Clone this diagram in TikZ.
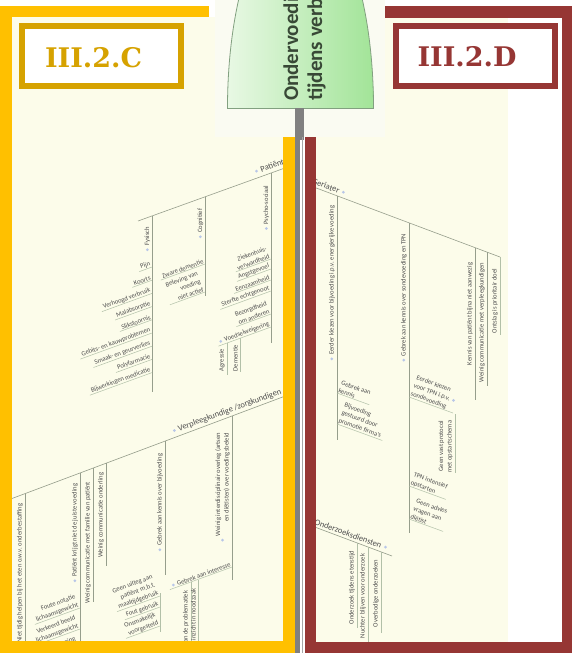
\documentclass[tikz,border=0pt]{standalone}
\usepackage{fontspec}
\newfontfamily\carlito{Carlito}
\newfontfamily\tagfont{DejaVu Serif}
\usetikzlibrary{calc}

\definecolor{frameY}{RGB}{255,192,0}
\definecolor{goldT}{RGB}{214,162,0}
\definecolor{frameR}{RGB}{150,54,52}
\definecolor{cream}{RGB}{252,252,234}
\definecolor{headbg}{RGB}{250,251,242}
\definecolor{bone}{RGB}{150,158,140}
\definecolor{twig}{RGB}{178,192,168}
\definecolor{ink}{RGB}{78,78,78}
\definecolor{dotc}{RGB}{184,198,232}
\definecolor{headL}{RGB}{232,248,228}
\definecolor{headR}{RGB}{162,228,152}
\definecolor{headEdge}{RGB}{130,160,128}
\definecolor{headInk}{RGB}{56,72,54}
\definecolor{stemgray}{RGB}{128,128,128}

\tikzset{
  itm/.style={font=\carlito\fontsize{6.6}{8.4}\selectfont, text=ink, inner sep=0.6pt},
  itL/.style={itm, rotate=20, anchor=south east, align=right},
  itR/.style={itm, rotate=-20, anchor=south west, align=left},
  vlab/.style={itm, rotate=90, anchor=south east, align=right},
  catL/.style={font=\carlito\fontsize{8.5}{9}\selectfont, text=ink, inner sep=1pt, rotate=20, anchor=south west},
  catR/.style={font=\carlito\fontsize{8.5}{9}\selectfont, text=ink, inner sep=1pt, rotate=-20, anchor=south east},
  bn/.style={draw=bone, line width=0.6pt},
  tw/.style={draw=twig, line width=0.5pt},
  headtext/.style={font=\carlito\bfseries\fontsize{21}{21}\selectfont, text=headInk, rotate=90, anchor=base west, inner sep=0pt},
  tagbox/.style={line width=6pt, fill=white, minimum width=159pt, minimum height=60pt, inner sep=0pt},
  tagtext/.style={font=\tagfont\bfseries\fontsize{27}{27}\selectfont, inner sep=0pt},
}

% item hanging left of a vertical twig, underlined
\newcommand\litem[3]{%
  \node[itL] (#1) at (#2) {#3};
  \draw[tw] (#1.south east) -- ($(#1.south west)!-2pt!(#1.south east)$);}
% item hanging right of a vertical twig, underlined
\newcommand\ritem[3]{%
  \node[itR] (#1) at (#2) {#3};
  \draw[tw] (#1.south west) -- ($(#1.south east)!-2pt!(#1.south west)$);}
% marker dots before / after a label
\newcommand\dotW[1]{\fill[dotc] ($(#1.west)!-3.2pt!(#1.east)$) circle (1.5);}
\newcommand\dotE[1]{\fill[dotc] ($(#1.east)!-3.2pt!(#1.west)$) circle (1.5);}

\begin{document}
\begin{tikzpicture}[x=1pt,y=-1pt]
\useasboundingbox (0,0) rectangle (572,653);
\fill[white] (0,0) rectangle (572,653);

% panel backgrounds
\fill[cream] (12,17) rectangle (283,641);
\fill[cream] (316,18) rectangle (508,642);
\fill[headbg] (215,0) rectangle (385,137);

% fish head
\begin{scope}
  \clip (215,0) rectangle (385,108);
  \shade[left color=headL, right color=headR] (300.5,108) ellipse [x radius=73pt, y radius=204pt];
  \draw[headEdge, line width=0.8pt] (300.5,108) ellipse [x radius=73pt, y radius=204pt];
  \node[headtext] (head1) at (298,101) {Ondervoeding};
  \node[headtext] (head2) at (322,101) {tijdens verblijf};
\end{scope}
\draw[headEdge, line width=0.8pt] (227.5,108) -- (373.5,108);
\fill[stemgray] (295,108) rectangle (304,140);
\fill[stemgray] (295,137) rectangle (300,653);
\draw[stemgray!70, line width=0.6pt] (302.5,137) -- (302.5,653);

% ---------------- left half ----------------
\begin{scope}
\clip (12,17) rectangle (283,641);

% Patient
\draw[bn] (138,221) -- (296,164);
\node[catL] (pat) at (261,174) {Patiënt}; \dotW{pat}

\draw[bn] (152,216) -- (152,392);
\node[vlab] (fys) at (151,226) {Fysisch}; \dotW{fys}
\litem{f1}{152,267}{Pijn}
\litem{f2}{152,280.2}{Koorts}
\litem{f3}{152,293.4}{Verhoogd verbruik}
\litem{f4}{152,306.6}{Malabsorptie}
\litem{f5}{152,319.8}{Slikstoornis}
\litem{f6}{152,333}{Gebits- en kauwproblemen}
\litem{f7}{152,346.2}{Smaak- en geurverlies}
\litem{f8}{152,359.4}{Polyfarmacie}
\litem{f9}{152,372.6}{Bijwerkingen medicatie}

\draw[bn] (205,197) -- (205,296);
\node[vlab] (cog) at (204,208) {Cognitief}; \dotW{cog}
\litem{c1}{205,264}{Zware dementie}
\litem{c2}{205,292}{Beleving van\\voeding\\niet actief}

\draw[bn] (271,173) -- (271,343);
\node[vlab] (psy) at (270,185) {Psycho-sociaal}; \dotW{psy}
\litem{p1}{271,259}{Ziekenhuis-\\verwardheid}
\litem{p2}{271,269}{Angstgevoel}
\litem{p3}{271,280}{Eenzaamheid}
\litem{p4}{271,291}{Sterfte echtgenoot}
\litem{p5}{271,314}{Bezorgdheid\\om anderen}
\node[itL] (p6) at (271,327) {Voedselweigering}; \dotW{p6}
\draw[tw] (p6.south east) -- ($(p6.south west)!-7pt!(p6.south east)$);
\draw[tw] (227,343) -- (227,375);
\node[vlab] (agr) at (225.5,348) {Agressie};
\draw[tw] (240,338.3) -- (240,372);
\node[vlab] (dem) at (238.5,344) {Dementie};

% Nursing staff
\draw[bn] (0,503) -- (296,392);
\node[catL] (vpk) at (179,434) {Verpleegkundige /zorgkundigen}; \dotW{vpk}

\draw[bn] (25,493.6) -- (25,653);
\node[vlab] (v1) at (23.5,503) {Niet tijdig helpen bij het eten o.w.v. onderbestaffing};

\draw[bn] (80,473) -- (80,653);
\node[vlab] (v2) at (78.5,483) {Patiënt krijgt niet de juiste voeding}; \dotW{v2}
\litem{v2a}{80,608}{Foute notatie\\lichaamsgewicht}
\litem{v2b}{80,629}{Verkeerd beeld\\lichaamsgewicht}
\litem{v2c}{80,650}{Geen weging\\bij opname}

\draw[bn] (93,468) -- (93,602);
\node[vlab] (v3) at (91.5,481) {Weinig communicatie met familie van patiënt};

\draw[bn] (106,463) -- (106,566);
\node[vlab] (v4) at (104.5,472) {Weinig communicatie onderling};

\draw[bn] (165,441) -- (165,575);
\node[vlab] (v5) at (163.5,453) {Gebrek aan kennis over bijvoeding}; \dotW{v5}

\draw[bn] (232,416) -- (232,580);
\node[vlab] (v6) at (230.5,432) {Weinig interdisciplinair overleg (artsen\\en diëtisten) over voedingsbeleid}; \dotW{v6}

\node[itL] (gai) at (232,567) {Gebrek aan interesse}; \dotW{gai}
\draw[tw] (gai.south east) -- ($(gai.south west)!-8pt!(gai.south east)$);
\draw[tw] (160,593) -- (160,632);
\litem{g1}{160,596}{Geen uitleg aan\\patiënt m.b.t.\\maaltijdgebruik}
\litem{g2}{160,607}{Fout gebruik}
\litem{g3}{160,626}{Onsmakelijk\\voorgesteld}
\draw[tw] (191,582) -- (191,653);
\node[vlab] (g4) at (189.5,590) {Onderschatten van de problematiek};
\draw[tw] (198,580) -- (198,653);
\node[vlab] (g5) at (196.5,588) {Geen inzicht in noodzaak};
\end{scope}

% ---------------- right half ----------------
\begin{scope}
\clip (316,18) rectangle (562,642);

% Geriatrician
\draw[bn] (296,180.4) -- (500,257);
\node[catR] (ger) at (339,195) {Geriater}; \dotE{ger}

\draw[bn] (337,195.75) -- (337,440);
\node[vlab] (r1) at (335.5,205) {Eerder kiezen voor bijvoeding i.p.v. energierijke voeding}; \dotW{r1}
\ritem{r1a}{337,393}{Gebrek aan\\kennis}
\ritem{r1b}{337,424}{Bijvoeding\\gestuurd door\\promotie firma's}

\draw[bn] (409,222.75) -- (409,533);
\node[vlab] (r2) at (407.5,233) {Gebrek aan kennis over sondevoeding en TPN}; \dotW{r2}
\node[itR] (r2a) at (409,397) {Eerder kiezen\\voor TPN i.p.v.\\sondevoeding}; \dotE{r2a}
\draw[tw] (r2a.south west) -- ($(r2a.south east)!-7pt!(r2a.south west)$);
\draw[tw] (455,414) -- (455,473);
\node[vlab] (r2b) at (453.5,420) {Geen vast protocol\\met opstartschema};
\ritem{r2c}{409,486}{TPN intensief\\opstarten}
\ritem{r2d}{409,519}{Geen advies\\vragen aan\\diëtist}

\draw[bn] (475,247.5) -- (475,400);
\node[vlab] (r3) at (473.5,262) {Kennis van patiënt bijna niet aanwezig};
\draw[bn] (487,252) -- (487,386);
\node[vlab] (r4) at (485.5,262) {Weinig communicatie met verpleegkundigen};
\draw[tw] (500,257) -- (500,335);
\node[vlab] (r5) at (498.5,268) {Ontslag is prioritair doel};

% Examination services
\draw[bn] (296,520) -- (392,556);
\node[catR] (ozd) at (381,550) {Onderzoeksdiensten}; \dotE{ozd}
\draw[tw] (357,543) -- (357,628);
\node[vlab] (o1) at (355.5,550) {Onderzoek tijdens etenstijd};
\draw[tw] (368,547) -- (368,653);
\node[vlab] (o2) at (366.5,553) {Nuchter blijven voor onderzoek};
\draw[tw] (381,552) -- (381,633);
\node[vlab] (o3) at (379.5,559) {Overbodige onderzoeken};
\end{scope}

% ---------------- frames ----------------
\fill[frameY] (0,6) rectangle (209,17);
\fill[frameY] (0,6) rectangle (12,653);
\fill[frameY] (0,641) rectangle (295,653);
\fill[frameY] (283,137) rectangle (295,653);

\fill[frameR] (385,6) rectangle (572,18);
\fill[frameR] (562,6) rectangle (572,653);
\fill[frameR] (305,642) rectangle (572,653);
\fill[frameR] (305,137) rectangle (316,653);

% section tags
\node[tagbox, draw=goldT] (tagC) at (101.5,56) {};
\node[tagtext, text=goldT] (tagCtxt) at (93.5,57.5) {III.2.C};
\node[tagbox, draw=frameR] (tagD) at (475,56) {};
\node[tagtext, text=frameR] (tagDtxt) at (467,57) {III.2.D};
\end{tikzpicture}
\end{document}
